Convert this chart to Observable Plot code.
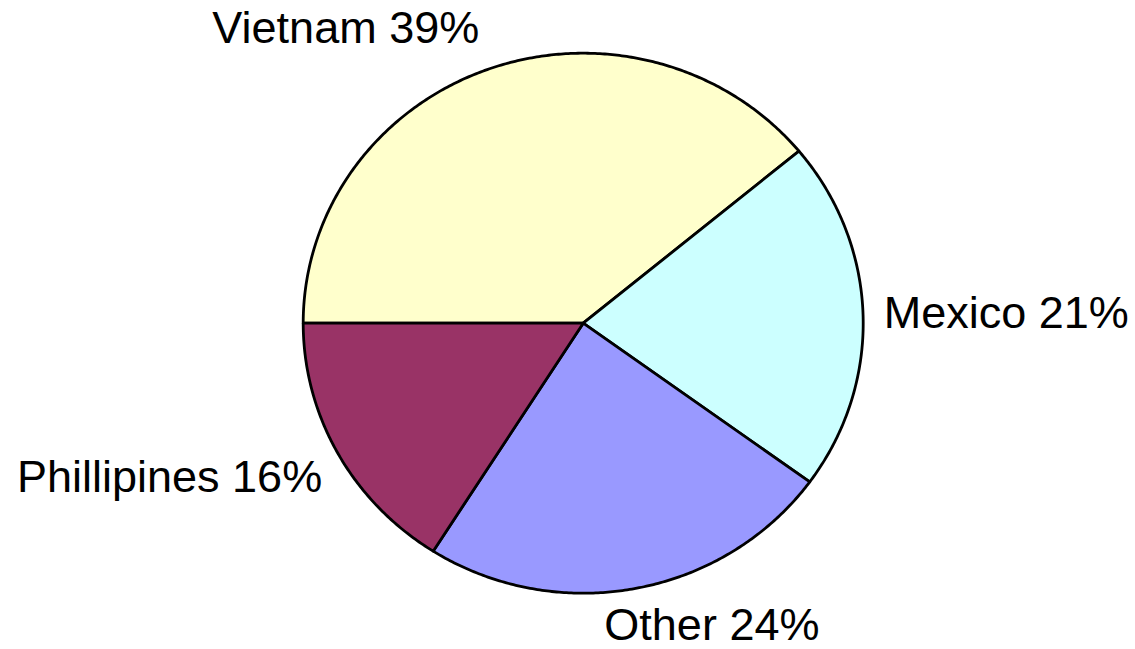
<!DOCTYPE html>
<html>
<head>
<meta charset="utf-8">
<script src="https://cdn.jsdelivr.net/npm/d3@7"></script>
<script src="https://cdn.jsdelivr.net/npm/@observablehq/plot@0.6"></script>
<style>
  html, body { margin: 0; padding: 0; background: #fff; }
  #chart svg { display: block; }
</style>
</head>
<body>
<div id="chart"></div>
<script>
// Data
const countries = ["Vietnam", "Mexico", "Other", "Phillipines"];
const shares = [39, 21, 24, 16];
const colors = ["#FFFFCC", "#CCFFFF", "#9999FF", "#993366"];

// Pie layout (angles clockwise from 12 o'clock, starting at 9 o'clock)
const total = d3.sum(shares);
const startOffset = -90;
let acc = 0;
const slices = countries.map((c, i) => {
  const a0 = startOffset + (acc / total) * 360;
  acc += shares[i];
  const a1 = startOffset + (acc / total) * 360;
  return {country: c, share: shares[i], a0, a1, mid: (a0 + a1) / 2};
});

const rad = (deg) => (deg * Math.PI) / 180;
const polyPoints = [];
for (const s of slices) {
  polyPoints.push({country: s.country, x: 0, y: 0});
  const n = Math.max(2, Math.ceil((s.a1 - s.a0) / 0.5));
  for (let k = 0; k <= n; k++) {
    const a = rad(s.a0 + ((s.a1 - s.a0) * k) / n);
    polyPoints.push({country: s.country, x: Math.sin(a), y: Math.cos(a)});
  }
}

// Label layout (style): anchors and pixel nudges
const labelLayout = {
  "Vietnam":     {textAnchor: "end",   lineAnchor: "bottom", dx: -2.5, dy: -8},
  "Mexico":      {textAnchor: "start", lineAnchor: "middle", dx: 1,    dy: -1},
  "Other":       {textAnchor: "start", lineAnchor: "top",    dx: -35,  dy: 1.5},
  "Phillipines": {textAnchor: "end",   lineAnchor: "top",    dx: 1.5,  dy: -2}
};
const kLabel = 1.07;

const labelMarks = slices.map((s) => {
  const L = labelLayout[s.country];
  const a = rad(s.mid);
  return Plot.text([s], {
    x: () => kLabel * Math.sin(a),
    y: () => kLabel * Math.cos(a),
    text: (d) => `${d.country} ${d.share}%`,
    textAnchor: L.textAnchor,
    lineAnchor: L.lineAnchor,
    dx: L.dx,
    dy: L.dy,
    fontSize: 45,
    fontFamily: "'Liberation Sans', Arial, sans-serif",
    fill: "black"
  });
});

const chart = Plot.plot({
  width: 1135,
  height: 649,
  margin: 0,
  x: {domain: [-1, 1], range: [302.7, 862.7], axis: null},
  y: {domain: [-1, 1], range: [592.7, 52.7], axis: null},
  color: {domain: countries, range: colors},
  style: {background: "#fff", fontFamily: "'Liberation Sans', Arial, sans-serif", overflow: "visible"},
  marks: [
    Plot.line(polyPoints, {
      x: "x",
      y: "y",
      z: "country",
      fill: "country",
      stroke: "black",
      strokeWidth: 2.8,
      strokeLinejoin: "round",
      curve: "linear-closed"
    }),
    ...labelMarks
  ]
});
document.getElementById("chart").appendChild(chart);
</script>
</body>
</html>
